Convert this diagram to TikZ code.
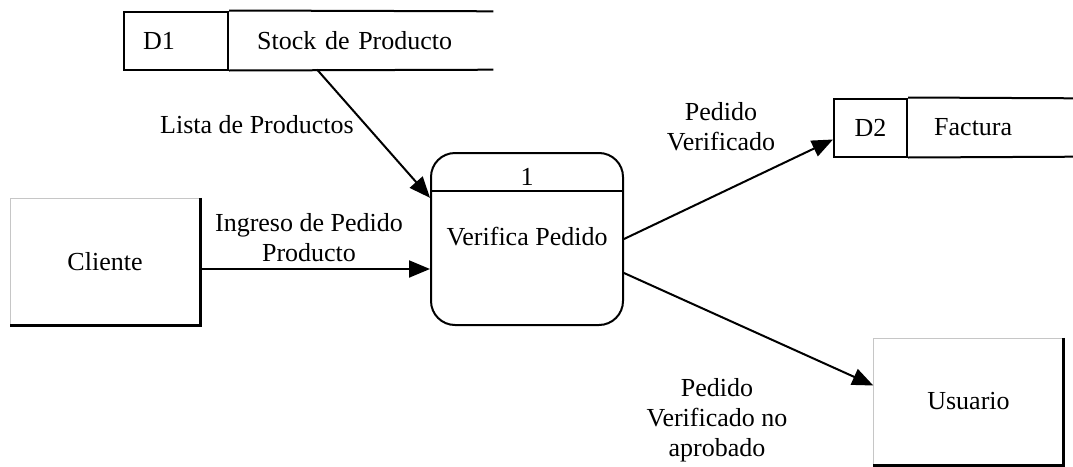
\documentclass[tikz,border=0pt]{standalone}
\usepackage{fontspec}
\setmainfont{Liberation Serif}
\usepackage{tikz}
\usetikzlibrary{arrows.meta}
\tikzstyle{entidad}=[draw=gray!45, thin, minimum width=190, minimum height=127, inner sep=0pt]
\tikzstyle{proceso}=[draw, line width=2, rounded corners=24, minimum width=192, minimum height=172]
\tikzstyle{almid}=[draw, line width=2, minimum height=58, inner sep=0pt, anchor=west]
\tikzstyle{almnombre}=[minimum height=58, inner sep=0pt, align=left, anchor=west]
\tikzstyle{flujo}=[line width=2, -{Triangle[length=21pt,width=17pt]}]
\tikzstyle{etiqueta}=[align=center, inner sep=0pt]

\begin{document}
\begin{tikzpicture}[x=1pt, y=-1pt, every node/.style={font=\fontsize{26}{30}\selectfont}]
            \useasboundingbox (0,0) rectangle (1073,466);
            % almacenes
            \node[almid, text width=66, inner xsep=19] (d1) at (123,40.5) {D1};
            \node[almnombre, text width=208, inner xsep=28] (stock) at (d1.east) {Stock de Producto};
            \draw[line width=2] (d1.north east) -- (stock.north east);
            \draw[line width=2] (d1.south east) -- (stock.south east);

            \node[almid, minimum width=73] (d2) at (833,127.5) {D2};
            \node[almnombre, text width=114, inner xsep=26] (factura) at (d2.east) {Factura};
            \draw[line width=2] (d2.north east) -- (factura.north east);
            \draw[line width=2] (d2.south east) -- (factura.south east);

            % proceso
            \node[proceso] (p1) at (527,239) {};
            \node (p1num) at (527,177) {1};
            \node (p1nombre) at (527,237) {Verifica Pedido};
            \coordinate (p1div) at (0,191);
            \draw[line width=2] (p1.west |- p1div) -- (p1.east |- p1div);

            % entidades externas
            \node[entidad] (cliente) at (105,261.5) {Cliente};
            \draw[line width=3] (cliente.north east) -- (cliente.south east) -- (cliente.south west);
            \node[entidad] (usuario) at (968.5,401.5) {Usuario};
            \draw[line width=3] (usuario.north east) -- (usuario.south east) -- (usuario.south west);

            % flujos
            \coordinate (s1) at (317,69.5);
            \draw[flujo] (s1) -- (p1.157);
            \draw[flujo] ([yshift=-7.5]cliente.east) -- ([yshift=-30]p1.west);
            \draw[flujo] (p1.east) -- ([yshift=-12]d2.west);
            \draw[flujo] ([yshift=-34]p1.east) -- ([yshift=16]usuario.west);

            % etiquetas
            \node[etiqueta] (lblista) at (257,125) {Lista de Productos};
            \node[etiqueta] (lbingreso) at (309,238) {Ingreso de Pedido\\Producto};
            \node[etiqueta] (lbverif) at (721,127) {Pedido\\Verificado};
            \node[etiqueta] (lbnoaprob) at (717,420) {Pedido\\Verificado no\\aprobado};
        \end{tikzpicture}
\end{document}
